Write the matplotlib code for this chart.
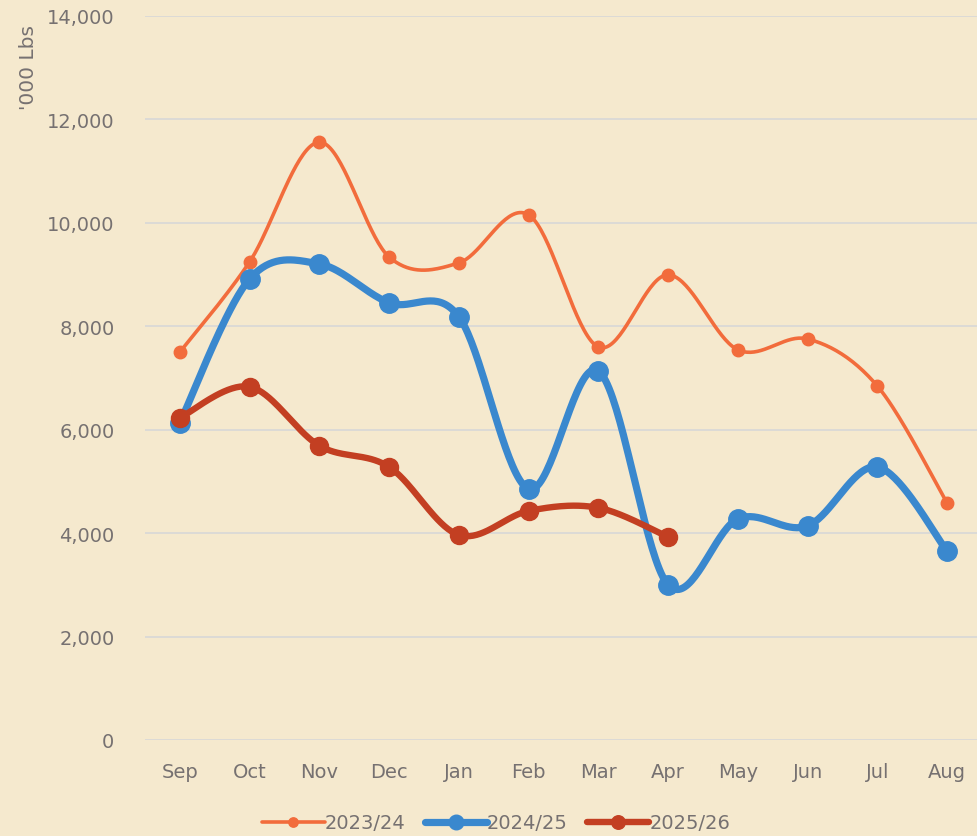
import numpy as np
import matplotlib
matplotlib.use("Agg")
import matplotlib.pyplot as plt
from matplotlib.ticker import FuncFormatter
from matplotlib.lines import Line2D

months = ["Sep", "Oct", "Nov", "Dec", "Jan", "Feb", "Mar", "Apr", "May", "Jun", "Jul", "Aug"]
s2324 = [7500, 9245, 11560, 9340, 9225, 10155, 7600, 8995, 7545, 7755, 6845, 4585]
s2425 = [6135, 8915, 9205, 8455, 8185, 4855, 7135, 3000, 4275, 4140, 5280, 3655]
s2526 = [6230, 6830, 5690, 5280, 3965, 4430, 4490, 3925]
labels = ["2023/24", "2024/25", "2025/26"]

BG = "#F5E9CE"
colors = ["#F26C3C", "#3A88CE", "#C33F22"]
lws = [2.6, 5.2, 4.6]
mss = [9, 14, 13]


def smooth(xs, ys, n=40):
    xs = np.asarray(xs, float)
    ys = np.asarray(ys, float)
    px, py = [], []
    m = len(xs)
    for i in range(m - 1):
        p0 = (xs[max(i - 1, 0)], ys[max(i - 1, 0)])
        p1 = (xs[i], ys[i])
        p2 = (xs[i + 1], ys[i + 1])
        p3 = (xs[min(i + 2, m - 1)], ys[min(i + 2, m - 1)])
        c1 = (p1[0] + (p2[0] - p0[0]) / 6, p1[1] + (p2[1] - p0[1]) / 6)
        c2 = (p2[0] - (p3[0] - p1[0]) / 6, p2[1] - (p3[1] - p1[1]) / 6)
        t = np.linspace(0, 1, n)
        b0 = (1 - t) ** 3
        b1 = 3 * (1 - t) ** 2 * t
        b2 = 3 * (1 - t) * t ** 2
        b3 = t ** 3
        px.extend(b0 * p1[0] + b1 * c1[0] + b2 * c2[0] + b3 * p2[0])
        py.extend(b0 * p1[1] + b1 * c1[1] + b2 * c2[1] + b3 * p2[1])
    return np.array(px), np.array(py)


fig = plt.figure(figsize=(9.77, 8.37), dpi=100, facecolor=BG)
ax = fig.add_axes([0.1484, 0.1147, 0.8567, 0.865])
ax.set_facecolor(BG)

handles = []
for data, c, lw, ms, lab in zip([s2324, s2425, s2526], colors, lws, mss, labels):
    x = np.arange(len(data))
    sx, sy = smooth(x, data)
    ax.plot(sx, sy, color=c, lw=lw, solid_capstyle="round", zorder=3)
    ax.plot(x, data, "o", color=c, ms=ms, zorder=4)
    handles.append(Line2D([0], [0], color=c, lw=lw, marker="o", ms=ms * 0.75,
                          solid_capstyle="round"))

ax.set_xlim(-0.5, 11.5)
ax.set_ylim(0, 14000)
ax.set_yticks(np.arange(0, 14001, 2000))
ax.yaxis.set_major_formatter(FuncFormatter(lambda v, p: f"{int(v):,}"))
ax.set_xticks(range(len(months)))
ax.set_xticklabels(months)
ax.grid(axis="y", color="#DCDAD6", lw=1.4)
ax.set_axisbelow(True)
for s in ax.spines.values():
    s.set_visible(False)
ax.tick_params(axis="both", length=0, labelsize=14, labelcolor="#767171")
ax.tick_params(axis="y", pad=22)
ax.tick_params(axis="x", pad=16)

fig.text(28 / 977, 1 - 68 / 837, "'000 Lbs", rotation=90, ha="center", va="center",
         fontsize=14.5, color="#767171")

fig.legend(handles, labels, loc="center", bbox_to_anchor=(0.508, 1 - 824 / 837), ncol=3,
           frameon=False, fontsize=14, labelcolor="#767171", handlelength=3.2,
           handletextpad=0.0, columnspacing=1.0)

fig.savefig("out.png", dpi=100, facecolor=BG)
